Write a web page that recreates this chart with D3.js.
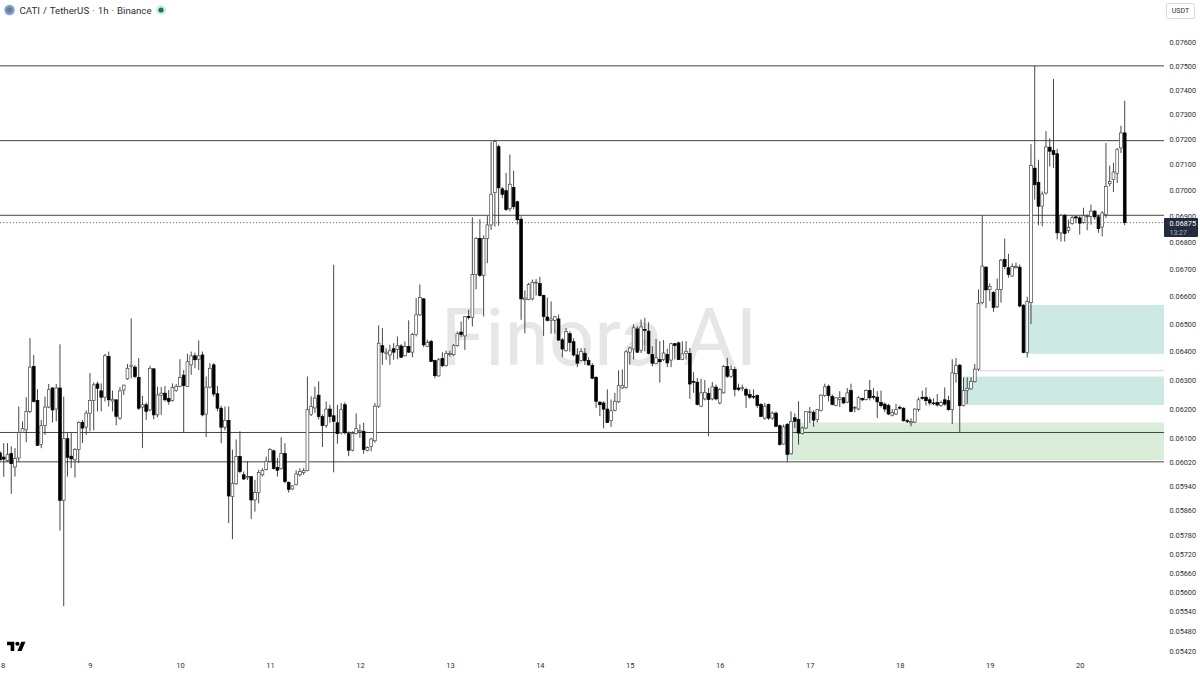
<!DOCTYPE html>
<html>
<head>
<meta charset="utf-8">
<script src="https://d3js.org/d3.v7.min.js"></script>
<style>
html,body{margin:0;padding:0;background:#fff;overflow:hidden}
svg{display:block}
text{font-family:Roboto,"Noto Sans",sans-serif}
</style>
</head>
<body>
<svg id="chart" width="1200" height="675"></svg>
<script>
// All prices are in units of 0.00001 USDT
const PRICE_UNIT = 1e-5;
const opens = [
6050,6036,6024,6048,6003,6033,6119,6128,6191,6347,
6229,6078,6143,6206,6272,6199,6272,5893,6098,6039,
6027,6061,6153,6137,6185,6229,6286,6262,6240,6383,
6227,6231,6168,6265,6304,6347,6345,6309,6206,6214,
6196,6339,6179,6247,6254,6236,6229,6263,6277,6317,
6277,6353,6385,6373,6388,6182,6275,6353,6252,6202,
6137,6160,5905,5947,6038,5977,5969,5971,5894,5918,
5977,5994,6022,6057,6001,5997,6048,5952,5930,5944,
5977,5984,5991,6180,6203,6247,6173,6143,6199,6176,6152,
6118,6214,6115,6059,6115,6121,6123,6058,6072,6091,
6209,6421,6393,6388,6410,6407,6420,6385,6418,6398,
6461,6532,6590,6418,6436,6368,6314,6375,6350,6389,
6389,6421,6470,6456,6526,6522,6680,6815,6677,6815,
6866,6990,7171,7005,6998,6928,7010,6955,6888,6587,
6588,6590,6649,6646,6603,6524,6512,6512,6517,6442,
6403,6464,6435,6388,6368,6394,6368,6351,6309,6223,
6220,6199,6159,6195,6224,6272,6274,6398,6409,6481,
6405,6479,6473,6390,6358,6372,6372,6390,6370,6428,
6431,6372,6393,6393,6295,6292,6209,6234,6253,6234,
6275,6220,6255,6347,6313,6337,6272,6271,6267,6249,
6243,6246,6215,6168,6215,6168,6185,6142,6080,6146,
6047,6169,6163,6115,6134,6188,6188,6163,6194,6246,
6278,6243,6212,6232,6238,6223,6263,6203,6199,6235,
6232,6263,6243,6240,6222,6216,6211,6178,6182,6205,
6202,6159,6152,6154,6197,6239,6240,6231,6220,6222,
6211,6231,6228,6197,6322,6352,6211,6263,6269,6294,
6338,6576,6707,6625,6613,6561,6625,6736,6705,6674,
6705,6707,6567,6397,6576,7086,7030,6938,6989,7169,
7156,7143,6836,6903,6845,6871,6897,6893,6876,6898,
6899,6919,6897,6858,6906,7025,7041,7065,7166,7226];
const highs = [
6056,6083,6083,6072,6066,6208,6157,6240,6448,6388,
6268,6162,6242,6286,6275,6286,6426,6242,6117,6117,
6066,6157,6162,6194,6324,6291,6294,6288,6392,6400,
6263,6231,6275,6283,6356,6519,6352,6377,6245,6222,
6350,6341,6277,6275,6279,6265,6288,6286,6373,6335,
6392,6400,6396,6440,6400,6312,6359,6359,6279,6210,
6208,6208,6061,6095,6123,5988,6022,5971,5960,5994,
5999,6038,6066,6061,6033,6103,6083,5955,5942,5992,
5999,5999,6312,6243,6277,6295,6181,6225,6214,6716,6214,
6220,6222,6123,6123,6184,6146,6152,6072,6101,6220,
6494,6484,6412,6424,6430,6454,6427,6436,6512,6467,
6593,6643,6593,6442,6442,6371,6377,6398,6403,6403,
6427,6472,6508,6528,6550,6895,6820,6888,6826,6900,
7191,7198,7178,7012,7067,7140,7076,6959,6899,6621,
6649,6661,6663,6671,6605,6595,6581,6528,6533,6448,
6484,6472,6448,6412,6412,6412,6380,6359,6314,6226,
6226,6267,6232,6255,6334,6337,6405,6417,6497,6491,
6515,6521,6505,6419,6445,6437,6441,6410,6431,6431,
6435,6437,6437,6413,6327,6307,6304,6300,6272,6293,
6284,6272,6352,6378,6352,6347,6287,6284,6273,6267,
6267,6249,6220,6220,6218,6191,6191,6146,6146,6151,
6191,6184,6226,6140,6191,6206,6195,6199,6249,6287,
6284,6249,6241,6261,6241,6272,6287,6209,6243,6238,
6267,6300,6272,6261,6263,6222,6217,6199,6217,6211,
6205,6165,6167,6202,6240,6263,6274,6240,6236,6251,
6228,6274,6245,6373,6377,6356,6309,6309,6309,6356,
6625,6902,6711,6647,6619,6665,6738,6814,6757,6721,
6724,6717,6570,6598,7181,7500,7119,6995,7233,7205,
7446,7162,6908,6908,6886,6902,6900,6900,6932,6906,
6944,6923,6906,6919,7186,7096,7108,7166,7255,7356];
const lows = [
6022,5970,6020,5914,5971,6022,6117,6086,6185,6222,
6075,6066,6111,6202,6153,6157,5795,5556,5971,5999,
5968,6016,6083,6111,6123,6126,6191,6191,6225,6208,
6191,6143,6162,6248,6300,6306,6306,6196,6066,6162,
6191,6164,6171,6179,6225,6214,6225,6259,6275,6119,
6277,6318,6341,6335,6174,6103,6271,6242,6191,6083,
6126,5819,5767,5944,5982,5960,5960,5832,5856,5883,
5971,5992,6019,5994,5971,5994,5949,5918,5927,5942,
5971,5977,5988,6175,6186,6163,6070,6135,6152,5985,6081,
6112,6112,6039,6055,6112,6101,6047,6055,6055,6084,
6203,6353,6371,6353,6371,6373,6377,6383,6395,6380,
6454,6528,6416,6418,6363,6306,6312,6345,6347,6383,
6385,6418,6452,6406,6515,6490,6625,6671,6526,6722,
6847,6860,6863,6969,6920,6918,6926,6868,6514,6465,
6585,6585,6602,6599,6456,6508,6464,6464,6439,6380,
6400,6400,6383,6345,6365,6353,6350,6303,6203,6175,
6133,6151,6138,6191,6220,6269,6270,6353,6372,6395,
6395,6401,6390,6348,6356,6291,6366,6345,6345,6372,
6370,6370,6372,6234,6255,6212,6206,6229,6106,6229,
6229,6215,6253,6307,6307,6243,6261,6261,6203,6234,
6234,6203,6171,6162,6162,6162,6138,6075,6078,6019,
6045,6134,6078,6112,6131,6151,6138,6153,6191,6241,
6226,6212,6209,6206,6217,6220,6188,6188,6195,6226,
6229,6229,6232,6168,6205,6189,6178,6174,6178,6197,
6156,6151,6140,6151,6190,6231,6211,6212,6212,6208,
6207,6211,6194,6148,6291,6121,6208,6217,6266,6291,
6332,6570,6557,6582,6543,6557,6576,6699,6668,6671,
6702,6559,6394,6379,6498,6963,6865,6861,6983,7093,
7086,6811,6803,6803,6836,6867,6873,6830,6871,6846,
6867,6886,6836,6823,6893,7015,6993,7028,7146,6865];
const closes = [
6027,6029,6044,6014,6031,6119,6132,6191,6345,6225,
6075,6142,6206,6266,6196,6272,5893,6098,6035,6030,
6061,6153,6134,6185,6229,6283,6271,6240,6385,6231,
6233,6174,6262,6282,6341,6352,6312,6202,6214,6191,
6341,6179,6248,6254,6231,6225,6274,6277,6309,6280,
6364,6385,6371,6385,6179,6275,6341,6251,6202,6137,
6160,5907,5949,6038,5988,5963,5971,5894,5918,5985,
5992,6022,6061,5998,5992,6048,5955,5929,5940,5980,
5988,5991,6197,6208,6237,6173,6143,6199,6174,6157,6115,
6197,6118,6059,6115,6132,6125,6061,6068,6097,6209,
6430,6398,6398,6403,6398,6421,6380,6418,6398,6461,
6532,6595,6424,6433,6365,6315,6371,6350,6393,6393,
6421,6464,6461,6525,6522,6680,6815,6677,6815,6866,
6984,7191,7009,6984,6925,7023,6936,6886,6590,6593,
6643,6651,6651,6602,6526,6512,6517,6525,6441,6409,
6472,6433,6388,6359,6400,6368,6353,6306,6226,6214,
6199,6153,6193,6226,6280,6280,6399,6413,6485,6398,
6488,6476,6394,6359,6378,6364,6395,6360,6428,6422,
6372,6392,6401,6286,6292,6215,6255,6257,6232,6276,
6234,6267,6347,6313,6337,6267,6267,6273,6247,6240,
6241,6211,6174,6209,6168,6185,6140,6078,6138,6045,
6157,6157,6117,6134,6190,6190,6161,6197,6247,6276,
6246,6215,6238,6238,6220,6255,6191,6205,6238,6231,
6263,6238,6240,6224,6211,6199,6182,6188,6197,6202,
6159,6156,6156,6199,6231,6237,6228,6220,6218,6213,
6222,6216,6197,6325,6350,6211,6263,6271,6294,6338,
6574,6711,6623,6635,6559,6625,6733,6709,6680,6709,
6709,6564,6397,6580,7096,7021,6938,6985,7170,7153,
7140,6836,6903,6834,6857,6895,6893,6873,6902,6900,
6919,6897,6852,6912,7015,7034,7071,7159,7226,6875];

const priceTicks = [0.076,0.075,0.074,0.073,0.072,0.071,0.07,0.069,0.068,0.067,0.066,0.065,0.064,0.063,0.062,0.061,0.0602,0.0594,0.0586,0.0578,0.0572,0.0566,0.056,0.0554,0.0548,0.0542];
const dayLabels = [8,9,10,11,12,13,14,15,16,17,18,19,20];
const dayIndex = [0,24,48,72,96,120,144,168,192,216,240,264,288];
const levelPrices = [7500,7195,6903,6119,6020];
const lastPrice = 6875;
const zoneStart = [274,257,210];
const zoneTop = [6568,6312,6153];
const zoneBottom = [6392,6213,6026];
const zoneColors = ["#cde9e3","#cde9e3","#d9edd9"];
const thinLineStart = 261;
const thinLinePrice = 6333;

const W = 1164;
const svg = d3.select("#chart");
const x = d3.scaleLinear().domain([0, opens.length - 1]).range([0, 1124.7]);
const y = d3.scaleLog().domain([0.076, 0.0542]).range([42, 651]);
const py = u => y(u * PRICE_UNIT);
const candles = d3.range(opens.length).map(i => ({i, o: opens[i], h: highs[i], l: lows[i], c: closes[i]}));

// watermark
svg.append("text").attr("x", 599).attr("y", 365).attr("text-anchor", "middle")
  .attr("font-size", 80).attr("font-weight", 400).attr("fill", "#e6e6e8").text("Finora AI");

// zones
svg.append("g").selectAll("rect").data(d3.range(zoneStart.length)).join("rect")
  .attr("x", i => x(zoneStart[i])).attr("width", i => W - x(zoneStart[i]))
  .attr("y", i => py(zoneTop[i])).attr("height", i => py(zoneBottom[i]) - py(zoneTop[i]))
  .attr("fill", i => zoneColors[i]);

svg.append("line").attr("x1", x(thinLineStart)).attr("x2", W)
  .attr("y1", py(thinLinePrice)).attr("y2", py(thinLinePrice))
  .attr("stroke", "#e3d6e6").attr("stroke-width", 1.2);

// horizontal levels
svg.append("g").selectAll("line").data(levelPrices).join("line")
  .attr("x1", 0).attr("x2", W)
  .attr("y1", d => py(d)).attr("y2", d => py(d))
  .attr("stroke", "#444").attr("stroke-width", 1);

// last price dotted
svg.append("line").attr("x1", 0).attr("x2", W)
  .attr("y1", py(lastPrice)).attr("y2", py(lastPrice))
  .attr("stroke", "#444").attr("stroke-width", 0.8).attr("stroke-dasharray", "1.2 2");

// candles
const g = svg.append("g");
g.selectAll("line.w").data(candles).join("line").attr("class", "w")
  .attr("x1", d => x(d.i)).attr("x2", d => x(d.i))
  .attr("y1", d => py(d.h)).attr("y2", d => py(d.l))
  .attr("stroke", "#333").attr("stroke-width", 0.9);
g.selectAll("rect").data(candles).join("rect")
  .attr("x", d => x(d.i) - 1.4).attr("width", 2.8)
  .attr("y", d => py(Math.max(d.o, d.c)))
  .attr("height", d => Math.max(0.8, Math.abs(py(d.o) - py(d.c))))
  .attr("fill", d => d.c >= d.o ? "#fff" : "#000")
  .attr("stroke", d => d.c >= d.o ? "#444" : "#000").attr("stroke-width", 0.7);

// price axis
const yAxis = d3.axisRight(y).tickValues(priceTicks).tickSize(0).tickPadding(0)
  .tickFormat(d3.format(".5f"));
const ay = svg.append("g").attr("transform", "translate(1169.5,0)").call(yAxis);
ay.select(".domain").remove();
ay.selectAll("text").attr("font-size", 7.3).attr("fill", "#2a2e39")
  .style("font-family", "Roboto,sans-serif");

// day axis
const xAxis = d3.axisBottom(x).tickValues(dayIndex).tickSize(0).tickPadding(0)
  .tickFormat((d, i) => dayLabels[i]);
const ax = svg.append("g").attr("transform", "translate(0,663)").call(xAxis);
ax.select(".domain").remove();
ax.selectAll("text").attr("font-size", 7.5).attr("fill", "#2a2e39")
  .style("font-family", "Roboto,sans-serif");
ax.selectAll("text").filter((d, i) => i === 0).attr("dx", 2.5);

// last price tag
svg.append("rect").attr("x", 1164).attr("y", 218).attr("width", 34).attr("height", 19)
  .attr("rx", 1).attr("fill", "#222c3e");
svg.append("text").attr("x", 1169.5).attr("y", 226).attr("font-size", 7.3).attr("fill", "#fff")
  .text(d3.format(".5f")(lastPrice * PRICE_UNIT));
svg.append("text").attr("x", 1169.5).attr("y", 235).attr("font-size", 7).attr("fill", "#aab0bb").text("13:27");

// header
svg.append("circle").attr("cx", 9.5).attr("cy", 10).attr("r", 5.2).attr("fill", "#6aa5e8");
svg.append("circle").attr("cx", 9.5).attr("cy", 10).attr("r", 2.8).attr("fill", "#8a7568");
svg.append("text").attr("x", 19.5).attr("y", 13.6).attr("font-size", 9.7).attr("word-spacing", 0.6).attr("fill", "#2a2e39")
  .text("CATI / TetherUS · 1h · Binance");
svg.append("circle").attr("cx", 161).attr("cy", 10).attr("r", 5).attr("fill", "#d5ece7");
svg.append("circle").attr("cx", 161).attr("cy", 10).attr("r", 2.6).attr("fill", "#0b7a66");

// currency box
svg.append("rect").attr("x", 1166.5).attr("y", 3.5).attr("width", 28).attr("height", 15).attr("rx", 2)
  .attr("fill", "#fff").attr("stroke", "#d6d8dd");
svg.append("text").attr("x", 1180.5).attr("y", 13.2).attr("text-anchor", "middle").attr("font-size", 7).attr("fill", "#2a2e39").text("USDT");

// TradingView logo
svg.append("path").attr("transform", "translate(7,639.6) scale(0.52)")
  .attr("d", "M14 22H7V11H0V4h14v18zM28 22h-8l7.5-18h8L28 22z").attr("fill", "#000");
svg.append("circle").attr("cx", 7 + 20 * 0.52).attr("cy", 639.6 + 8 * 0.52).attr("r", 2.08).attr("fill", "#000");
</script>
</body>
</html>
